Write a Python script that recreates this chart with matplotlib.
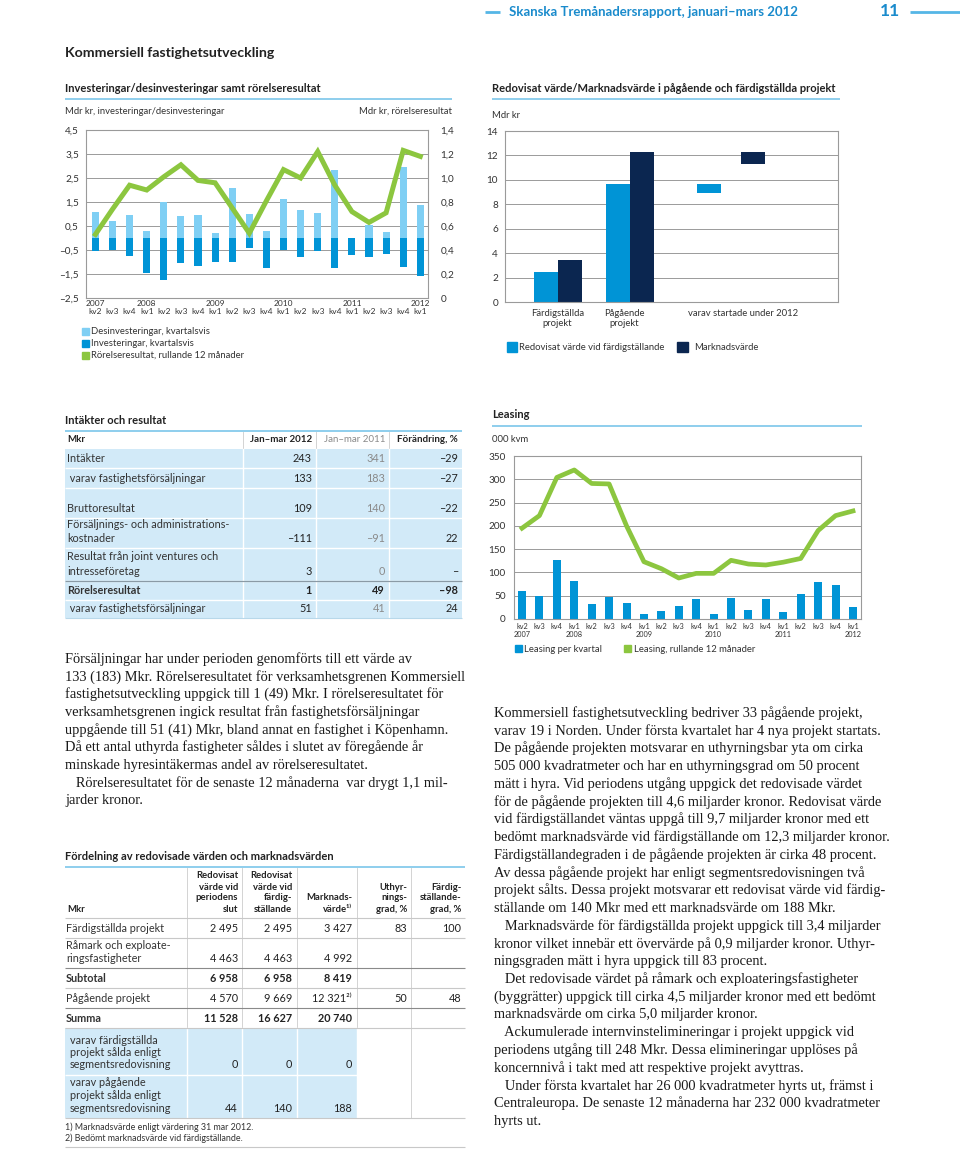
import numpy as np
import matplotlib
matplotlib.use('Agg')
import matplotlib.pyplot as plt
from matplotlib.patches import Rectangle

plt.rcParams['font.family'] = ['Lato', 'DejaVu Sans']

W, H = 960, 1149

# ---- data: investeringar / desinvesteringar ----
kvartal = ['kv2', 'kv3', 'kv4', 'kv1', 'kv2', 'kv3', 'kv4', 'kv1', 'kv2', 'kv3',
           'kv4', 'kv1', 'kv2', 'kv3', 'kv4', 'kv1', 'kv2', 'kv3', 'kv4', 'kv1']
ar_pos = {0: '2007', 3: '2008', 7: '2009', 11: '2010', 15: '2011', 19: '2012'}
desinvest = [1.1, 0.7, 0.95, 0.28, 1.5, 0.92, 0.97, 0.22, 2.1, 1.02,
             0.28, 1.62, 1.18, 1.06, 2.84, 0.0, 0.55, 0.27, 2.94, 1.37]
invest = [-0.55, -0.5, -0.76, -1.47, -1.76, -1.06, -1.15, -1.0, -0.98, -0.43,
          -1.23, -0.48, -0.78, -0.55, -1.25, -0.7, -0.8, -0.67, -1.2, -1.6]
rorelse_r12 = [0.53, 0.74, 0.94, 0.90, 1.01, 1.11, 0.98, 0.96, 0.75, 0.54,
               0.81, 1.07, 1.00, 1.22, 0.94, 0.72, 0.63, 0.71, 1.23, 1.18]

# ---- data: redovisat värde / marknadsvärde ----
proj_labels = ['Färdigställda\nprojekt', 'Pågående\nprojekt', 'varav startade under 2012']
redovisat = [2.495, 9.669]
marknad = [3.427, 12.321]
startade_red = 0.75
startade_mv = 1.0

# ---- data: leasing ----
leasing_kv = [60, 50, 127, 82, 33, 47, 34, 10, 18, 27,
              44, 10, 46, 20, 42, 16, 54, 79, 73, 26]
leasing_r12 = [195, 222, 304, 320, 291, 290, 200, 123, 108, 88,
               98, 98, 126, 118, 116, 122, 130, 190, 222, 232]

# ---- tabell: intäkter och resultat ----
t1_head = ['Mkr', 'Jan–mar 2012', 'Jan–mar 2011', 'Förändring, %']
t1_rows = [
    (['Intäkter'], '243', '341', '–29'),
    ([' varav fastighetsförsäljningar'], '133', '183', '–27'),
    (['Bruttoresultat'], '109', '140', '–22'),
    (['Försäljnings- och administrations-', 'kostnader'], '–111', '–91', '22'),
    (['Resultat från joint ventures och', 'intresseföretag'], '3', '0', '–'),
    (['Rörelseresultat'], '1', '49', '–98'),
    ([' varav fastighetsförsäljningar'], '51', '41', '24'),
]

# ---- tabell: fördelning ----
t2_head = [['Redovisat', 'värde vid', 'periodens', 'slut'],
           ['Redovisat', 'värde vid', 'färdig-', 'ställande'],
           ['Marknads-', 'värde¹⁾'],
           ['Uthyr-', 'nings-', 'grad, %'],
           ['Färdig-', 'ställande-', 'grad, %']]
t2_rows = [
    (['Färdigställda projekt'], ['2 495', '2 495', '3 427', '83', '100']),
    (['Råmark och exploate-', 'ringsfastigheter'], ['4 463', '4 463', '4 992', '', '']),
    (['Subtotal'], ['6 958', '6 958', '8 419', '', '']),
    (['Pågående projekt'], ['4 570', '9 669', '12 321²⁾', '50', '48']),
    (['Summa'], ['11 528', '16 627', '20 740', '', '']),
    (['varav färdigställda', 'projekt sålda enligt', 'segmentsredovisning'], ['0', '0', '0', '', '']),
    (['varav pågående', 'projekt sålda enligt', 'segmentsredovisning'], ['44', '140', '188', '', '']),
]

text_left = [
    'Försäljningar har under perioden genomförts till ett värde av',
    '133 (183) Mkr. Rörelseresultatet för verksamhetsgrenen Kommersiell',
    'fastighetsutveckling uppgick till 1 (49) Mkr. I rörelseresultatet för',
    'verksamhetsgrenen ingick resultat från fastighetsförsäljningar',
    'uppgående till 51 (41) Mkr, bland annat en fastighet i Köpenhamn.',
    'Då ett antal uthyrda fastigheter såldes i slutet av föregående år',
    'minskade hyresintäkermas andel av rörelseresultatet.',
    '   Rörelseresultatet för de senaste 12 månaderna  var drygt 1,1 mil-',
    'jarder kronor.',
]
text_right = [
    'Kommersiell fastighetsutveckling bedriver 33 pågående projekt,',
    'varav 19 i Norden. Under första kvartalet har 4 nya projekt startats.',
    'De pågående projekten motsvarar en uthyrningsbar yta om cirka',
    '505 000 kvadratmeter och har en uthyrningsgrad om 50 procent',
    'mätt i hyra. Vid periodens utgång uppgick det redovisade värdet',
    'för de pågående projekten till 4,6 miljarder kronor. Redovisat värde',
    'vid färdigställandet väntas uppgå till 9,7 miljarder kronor med ett',
    'bedömt marknadsvärde vid färdigställande om 12,3 miljarder kronor.',
    'Färdigställandegraden i de pågående projekten är cirka 48 procent.',
    'Av dessa pågående projekt har enligt segmentsredovisningen två',
    'projekt sålts. Dessa projekt motsvarar ett redovisat värde vid färdig-',
    'ställande om 140 Mkr med ett marknadsvärde om 188 Mkr.',
    '   Marknadsvärde för färdigställda projekt uppgick till 3,4 miljarder',
    'kronor vilket innebär ett övervärde på 0,9 miljarder kronor. Uthyr-',
    'ningsgraden mätt i hyra uppgick till 83 procent.',
    '   Det redovisade värdet på råmark och exploateringsfastigheter',
    '(byggrätter) uppgick till cirka 4,5 miljarder kronor med ett bedömt',
    'marknadsvärde om cirka 5,0 miljarder kronor.',
    '   Ackumulerade internvinstelimineringar i projekt uppgick vid',
    'periodens utgång till 248 Mkr. Dessa elimineringar upplöses på',
    'koncernnivå i takt med att respektive projekt avyttras.',
    '   Under första kvartalet har 26 000 kvadratmeter hyrts ut, främst i',
    'Centraleuropa. De senaste 12 månaderna har 232 000 kvadratmeter',
    'hyrts ut.',
]

# colours
LJUS = '#7fcff4'
BLA = '#0094d6'
GRON = '#8cc63f'
NAVY = '#0b2650'
RAM = '#9a9a9a'
TXT = '#333333'
LINJE = '#7cc6ea'
CELL = '#d2eaf8'
SERIF = ['Liberation Serif', 'DejaVu Serif']

fig = plt.figure(figsize=(W / 100, H / 100), dpi=100)
bg = fig.add_axes([0, 0, 1, 1])
bg.set_xlim(0, W)
bg.set_ylim(H, 0)
bg.axis('off')


def box(x0, y0, x1, y1):
    return [x0 / W, 1 - y1 / H, (x1 - x0) / W, (y1 - y0) / H]


def txt(x, y, s, size=6.8, **kw):
    kw.setdefault('va', 'center')
    kw.setdefault('color', TXT)
    bg.text(x, y, s, fontsize=size, **kw)


def hline(x0, x1, y, color=LINJE, lw=1.2):
    bg.plot([x0, x1], [y, y], color=color, lw=lw, solid_capstyle='butt')


def num(v, d=1):
    s = f'{v:.{d}f}'.replace('.', ',').replace('-', '–')
    return '0' if v == 0 else s


def style_ax(ax):
    for sp in ax.spines.values():
        sp.set_color(RAM)
        sp.set_linewidth(0.8)
    ax.set_axisbelow(True)
    ax.yaxis.grid(True, color=RAM, lw=0.7)
    ax.tick_params(length=0, colors=TXT, labelsize=7.2)


# ---- header ----
hline(485, 500, 12, color='#55b6e6', lw=2)
hline(910, 960, 12, color='#55b6e6', lw=2)
txt(509, 12, 'Skanska Tremånadersrapport, januari–mars 2012', size=9.5, color='#1a8bcc', fontweight='bold')
txt(880, 11, '11', size=12.5, color='#1a8bcc', fontweight='bold')
txt(65, 53, 'Kommersiell fastighetsutveckling', size=10.2, color='#222222', fontweight='bold')

# ---- chart 1: investeringar ----
txt(65, 88, 'Investeringar/desinvesteringar samt rörelseresultat', size=8.0, fontweight='bold', color='#222222')
hline(65, 452, 99)
txt(65, 111, 'Mdr kr, investeringar/desinvesteringar')
txt(452, 111, 'Mdr kr, rörelseresultat', ha='right')

ax1 = fig.add_axes(box(86, 130, 428, 298))
x = np.arange(len(kvartal))
ax1.bar(x, desinvest, width=0.42, color=LJUS, zorder=2)
ax1.bar(x, invest, width=0.42, color=BLA, zorder=2)
ax1.set_xlim(-0.55, 19.45)
ax1.set_ylim(-2.5, 4.5)
yt = np.arange(-2.5, 4.6, 1.0)
ax1.set_yticks(yt)
ax1.set_yticklabels([num(v) for v in yt])
ax1.set_xticks([])
style_ax(ax1)
ax1.tick_params(axis='y', pad=5)
tr = ax1.get_xaxis_transform()
for i, k in enumerate(kvartal):
    ax1.text(i, -13 / 168, k, transform=tr, ha='center', va='center', fontsize=6.0, color=TXT)
for i, a in ar_pos.items():
    ax1.text(i, -5 / 168, a, transform=tr, ha='center', va='center', fontsize=6.0, color=TXT)

ax2 = ax1.twinx()
ax2.plot(x, rorelse_r12, color=GRON, lw=3.6, solid_joinstyle='miter', zorder=3)
ax2.set_ylim(0, 1.4)
rt = np.arange(0, 1.41, 0.2)
ax2.set_yticks(rt)
ax2.set_yticklabels([num(v) for v in rt])
for sp in ax2.spines.values():
    sp.set_visible(False)
ax2.tick_params(length=0, colors=TXT, labelsize=7.2, pad=9)

for yy, c, s in [(331, LJUS, 'Desinvesteringar, kvartalsvis'),
                 (343, BLA, 'Investeringar, kvartalsvis'),
                 (355, GRON, 'Rörelseresultat, rullande 12 månader')]:
    bg.add_patch(Rectangle((82, yy - 3.5), 7, 7, color=c))
    txt(91, yy, s)

# ---- chart 2: redovisat värde ----
txt(492, 88, 'Redovisat värde/Marknadsvärde i pågående och färdigställda projekt', size=8.0,
    fontweight='bold', color='#222222')
hline(492, 840, 99)
txt(492, 116, 'Mdr kr')
ax3 = fig.add_axes(box(505, 131, 838, 302))
grp = np.array([0.0, 1.0])
bw = 0.33
ax3.bar(grp - 0.167, redovisat, width=bw, color=BLA, zorder=2)
ax3.bar(grp + 0.167, marknad, width=bw, color=NAVY, zorder=2)
ax3.bar([2.1], [startade_red], bottom=[redovisat[1] - startade_red], width=bw, color=BLA, zorder=2)
ax3.bar([2.71], [startade_mv], bottom=[marknad[1] - startade_mv], width=bw, color=NAVY, zorder=2)
ax3.set_xlim(-0.736, 3.89)
ax3.set_ylim(0, 14)
ax3.set_yticks(range(0, 15, 2))
ax3.set_xticks([-0.01, 0.92, 2.57])
ax3.set_xticklabels(proj_labels, fontsize=6.8, va='top', linespacing=1.1)
style_ax(ax3)
ax3.tick_params(axis='x', pad=5, labelsize=6.8)
ax3.tick_params(axis='y', pad=5)
bg.add_patch(Rectangle((507, 342), 10, 10, color=BLA))
txt(519, 347, 'Redovisat värde vid färdigställande')
bg.add_patch(Rectangle((677, 342), 11, 10, color=NAVY))
txt(694, 347, 'Marknadsvärde')

# ---- chart 3: leasing ----
txt(492, 414, 'Leasing', size=8.0, fontweight='bold', color='#222222')
hline(492, 862, 426)
txt(492, 440, '000 kvm')
ax4 = fig.add_axes(box(514, 456, 861, 619))
ax4.bar(x, leasing_kv, width=0.46, color=BLA, zorder=2)
ax4.plot(x, leasing_r12, color=GRON, lw=3.4, zorder=3)
ax4.set_xlim(-0.46, 19.46)
ax4.set_ylim(0, 350)
ax4.set_yticks(range(0, 351, 50))
style_ax(ax4)
ax4.tick_params(axis='y', pad=6)
ax4.set_xticks([])
tr4 = ax4.get_xaxis_transform()
for i, k in enumerate(kvartal):
    lab = k + ('\n' + ar_pos[i] if i in ar_pos else '')
    ax4.text(i, -4 / 163, lab, transform=tr4, ha='center', va='top', fontsize=5.3,
             color=TXT, linespacing=1.15)
bg.add_patch(Rectangle((515, 645), 7, 7, color=BLA))
txt(524, 649, 'Leasing per kvartal')
bg.add_patch(Rectangle((624, 645), 7, 7, color=GRON))
txt(634, 649, 'Leasing, rullande 12 månader')

# ---- table 1 ----
txt(65, 420, 'Intäkter och resultat', size=8.0, fontweight='bold', color='#222222')
hline(65, 462, 431)
col_r = [312, 385, 458]
col_sep = [243, 316, 389]
row_y = [449, 468, 488, 518, 548, 581, 600, 618]
bg.add_patch(Rectangle((65, 449), 397, 618 - 449, color=CELL, lw=0))
for cx in col_sep:
    bg.plot([cx, cx], [432, 449], color='#cccccc', lw=0.6)
    bg.plot([cx, cx], [449, 618], color='white', lw=1.0)
for yy in row_y[1:-1]:
    hline(65, 462, yy, color='white', lw=1.0)
hline(65, 462, 581, color='#8a9aa5', lw=0.9)
hline(65, 462, 618, color='#b8d8ea', lw=0.8)
txt(67, 440, t1_head[0], size=7.0, fontweight='bold', color='#222222')
for j, h in enumerate(t1_head[1:]):
    grey = j == 1
    txt(col_r[j], 440, h, size=7.0, ha='right', fontweight='normal' if grey else 'bold',
        color='#8a8a8a' if grey else '#222222')
for r, (lab, a, b, c) in enumerate(t1_rows):
    top, bot = row_y[r], row_y[r + 1]
    ybase = bot - 9.5
    bold = lab[0] == 'Rörelseresultat'
    fw = 'bold' if bold else 'normal'
    for li, line in enumerate(lab):
        txt(67, ybase - 14.5 * (len(lab) - 1 - li), line, size=7.8, fontweight=fw, color='#333333')
    txt(col_r[0], ybase, a, size=7.8, ha='right', fontweight=fw, color='#222222')
    txt(col_r[1], ybase, b, size=7.8, ha='right', fontweight=fw,
        color='#222222' if bold else '#8a8a8a')
    txt(col_r[2], ybase, c, size=7.8, ha='right', fontweight=fw, color='#222222')

# ---- body text ----
for i, line in enumerate(text_left):
    txt(65, 659 + 17.7 * i, line, size=10.4, family=SERIF, color='#1a1a1a')
for i, line in enumerate(text_right):
    txt(494, 713 + 17.75 * i, line, size=10.4, family=SERIF, color='#1a1a1a')

# ---- table 2 ----
txt(65, 857, 'Fördelning av redovisade värden och marknadsvärden', size=8.0, fontweight='bold',
    color='#222222')
hline(65, 465, 867)
c2_r = [238, 292, 352, 407, 461]
c2_sep = [187, 242, 297, 357, 411]
bg.add_patch(Rectangle((65, 1028), 357 - 65, 1118 - 1028, color=CELL, lw=0))
hline(65, 357, 1075, color='white', lw=1.0)
for cx in c2_sep:
    bg.plot([cx, cx], [868, 1118], color='#cccccc', lw=0.6, zorder=1)
for cx in c2_sep[:-1]:
    bg.plot([cx, cx], [1028, 1118], color='white', lw=1.0, zorder=1.5)
for yy, c in [(918, '#c8c8c8'), (938, '#c8c8c8'), (968, '#8a8a8a'), (988, '#c8c8c8'),
              (1008, '#8a8a8a'), (1028, '#c8c8c8'), (1118, '#c8c8c8'), (1147, '#c8c8c8')]:
    hline(65, 465, yy, color=c, lw=0.8)
txt(67, 909, 'Mkr', size=6.8, fontweight='bold', color='#222222')
for j, h in enumerate(t2_head):
    for li, line in enumerate(h):
        txt(c2_r[j], 909 - 11 * (len(h) - 1 - li), line, size=6.8, ha='right',
            fontweight='bold', color='#222222')
row2_bot = [938, 968, 988, 1008, 1028, 1075, 1118]
for r, (lab, vals) in enumerate(t2_rows):
    ybase = row2_bot[r] - 10
    bold = lab[0] in ('Subtotal', 'Summa')
    fw = 'bold' if bold else 'normal'
    ind = 70 if lab[0].startswith('varav') else 66
    for li, line in enumerate(lab):
        txt(ind, ybase - 12.5 * (len(lab) - 1 - li), line, size=7.8, fontweight=fw, color='#333333')
    for j, v in enumerate(vals):
        txt(c2_r[j], ybase, v, size=7.8, ha='right', fontweight=fw, color='#222222')
txt(65, 1127, '1) Marknadsvärde enligt värdering 31 mar 2012.', size=6.4)
txt(65, 1138, '2) Bedömt marknadsvärde vid färdigställande.', size=6.4)

fig.savefig('out.png', dpi=100)
